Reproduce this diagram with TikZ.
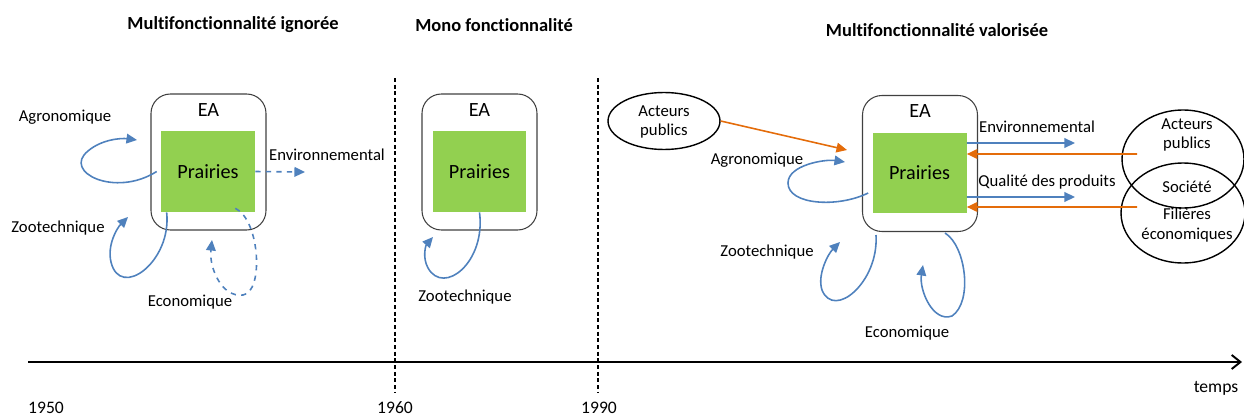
\documentclass[tikz,border=0pt]{standalone}
\usepackage{fontspec}
\setmainfont{Carlito}[Ligatures=NoCommon]
\usetikzlibrary{arrows.meta}
\usetikzlibrary{positioning, shapes.geometric}

\definecolor{flowblue}{RGB}{79,129,189}
\definecolor{floworange}{RGB}{228,108,10}
\definecolor{prairiegreen}{RGB}{146,208,80}
\definecolor{boxgray}{RGB}{64,64,64}

\tikzset{
  farm/.style={draw=boxgray, line width=0.6pt, rounded corners=11pt, minimum width=2.3cm, minimum height=2.72cm},
  prairie/.style={fill=prairiegreen, minimum width=1.88cm, minimum height=1.62cm, font=\fontsize{11.5}{13}\selectfont},
  lbl/.style={font=\fontsize{9.5}{11.3}\selectfont, inner sep=1pt, align=center},
  titre/.style={font=\fontsize{10.5}{12}\selectfont\bfseries, inner sep=1pt},
  annee/.style={font=\fontsize{10}{12}\selectfont, inner sep=1pt},
  acteur/.style={ellipse, draw=black, line width=0.8pt},
  fonction/.style={draw=flowblue, line width=0.9pt, -{Triangle[length=6pt, width=5.5pt]}},
  pression/.style={draw=floworange, line width=0.9pt, -{Triangle[length=6pt, width=5.5pt]}},
  periode/.style={draw=black, line width=0.6pt, dash pattern=on 2.3pt off 1.5pt},
}

\begin{document}
\begin{tikzpicture}[x=0.02cm, y=-0.02cm]
  \useasboundingbox (0,0) rectangle (1244,419);

  % Titles
  \node[titre] (t1) at (233,25) {Multifonctionnalité ignorée};
  \node[titre] (t2) at (494,25) {Mono fonctionnalité};
  \node[titre] (t3) at (937,30) {Multifonctionnalité valorisée};

  % Time axis and period limits
  \draw[periode] (395,78) -- (395,392);
  \draw[periode] (598,78) -- (598,392);
  \draw[line width=1.1pt, -{Straight Barb[length=5pt, width=8pt]}] (28,362) -- (1242,362);
  \node[annee] (y1950) at (46,408) {1950};
  \node[annee] (y1960) at (395,408) {1960};
  \node[annee] (y1990) at (599,408) {1990};
  \node[annee] (temps) at (1216,388) {temps};

  % 1950-1960: farm with ignored functions
  \node[farm]    (ea1) at (208.5,162) {};
  \node[prairie] (pr1) at (208,171.5) {Prairies};
  \node[font=\fontsize{11.5}{13}\selectfont, below=2pt of ea1.north] (ealbl1) {EA};
  \node[lbl] (agro1) at (65,117)  {Agronomique};
  \node[lbl] (zoo1)  at (58,228)  {Zootechnique};
  \node[lbl] (eco1)  at (190,302) {Economique};
  \node[lbl] (env1)  at (327,155) {Environnemental};
  \coordinate (agro1tip) at (137,140);
  \coordinate (zoo1tip)  at (128,217);
  \coordinate (eco1tip)  at (212,240);
  \coordinate (env1tip)  at (305,172);

  \draw[fonction] ([xshift=-0.08cm]pr1.west) .. controls (115,198) and (62,172) .. (88,151)
                  .. controls (102,139) and (122,138) .. (agro1tip);
  \draw[fonction] ([xshift=0.12cm]pr1.south west) .. controls (172,262) and (120,300) .. (111,262)
                  .. controls (107,245) and (117,228) .. (zoo1tip);
  \draw[fonction, dashed] ([xshift=-0.4cm,yshift=0.08cm]pr1.south east) .. controls (260,220) and (264,292) .. (243,295)
                  .. controls (222,298) and (209,268) .. (eco1tip);
  \draw[fonction, dashed] (pr1.east) -- (env1tip);

  % 1960-1990: single function
  \node[farm]    (ea2) at (479.5,162) {};
  \node[prairie] (pr2) at (479.5,171.5) {Prairies};
  \node[font=\fontsize{11.5}{13}\selectfont, below=2pt of ea2.north] (ealbl2) {EA};
  \node[lbl] (zoo2) at (465,297) {Zootechnique};
  \coordinate (zoo2tip) at (433,237);
  \draw[fonction] (pr2.south) .. controls (486,262) and (444,296) .. (428,268)
                  .. controls (422,257) and (426,245) .. (zoo2tip);

  % after 1990: valued functions and society
  \node[farm]    (ea3) at (920,163.5) {};
  \node[prairie] (pr3) at (919.5,173) {Prairies};
  \node[font=\fontsize{11.5}{13}\selectfont, below=2pt of ea3.north] (ealbl3) {EA};
  \node[acteur, minimum width=2.24cm, minimum height=1.14cm] (pub1) at (664,121) {};
  \node[lbl] (pub1lbl) at (664,122) {Acteurs\\publics};
  \coordinate (pub1tip) at (847,150);
  \draw[pression] (pub1.east) -- (pub1tip);

  \node[lbl] (agro3) at (757,160) {Agronomique};
  \node[lbl] (zoo3)  at (767,252) {Zootechnique};
  \node[lbl] (eco3)  at (907,333) {Economique};
  \coordinate (agro3tip) at (845,162);
  \coordinate (zoo3tip)  at (840,242);
  \coordinate (eco3tip)  at (923,265);
  \draw[fonction] ([xshift=-0.08cm,yshift=-0.4cm]pr3.west) .. controls (838,208) and (788,205) .. (788,183)
                  .. controls (788,165) and (825,159) .. (agro3tip);
  \draw[fonction] ([xshift=0.28cm,yshift=-0.06cm]ea3.south west) .. controls (879,282) and (834,320) .. (822,290)
                  .. controls (817,275) and (828,254) .. (zoo3tip);
  \draw[fonction] ([xshift=-0.66cm,yshift=-0.02cm]ea3.south east) .. controls (966,246) and (973,302) .. (952,316)
                  .. controls (933,323) and (919,290) .. (eco3tip);

  % Society: public actors and supply chains
  \node[acteur, minimum width=2.44cm, minimum height=1.96cm] (pub2) at (1183,159) {};
  \node[acteur, minimum width=2.48cm, minimum height=2.0cm]  (fil)  at (1183,213) {};
  \node[lbl] (pub2lbl) at (1187,135) {Acteurs\\publics};
  \node[lbl] (soc)     at (1187,187) {Société};
  \node[lbl] (fillbl)  at (1187,225) {Filières\\économiques};

  \node[lbl] (env3)  at (1037,127) {Environnemental};
  \node[lbl] (qual3) at (1047,182) {Qualité des produits};
  \coordinate (env3tip)  at (1075,143);
  \coordinate (pub2src)  at (1137,154);
  \coordinate (qual3tip) at (1075,197);
  \coordinate (filsrc)   at (1137,207);
  \draw[fonction] ([yshift=0.6cm]pr3.east) -- (env3tip);
  \draw[pression] (pub2src) -- ([yshift=0.38cm]pr3.east);
  \draw[fonction] ([yshift=-0.48cm]pr3.east) -- (qual3tip);
  \draw[pression] (filsrc) -- ([yshift=-0.68cm]pr3.east);

\end{tikzpicture}
\end{document}
